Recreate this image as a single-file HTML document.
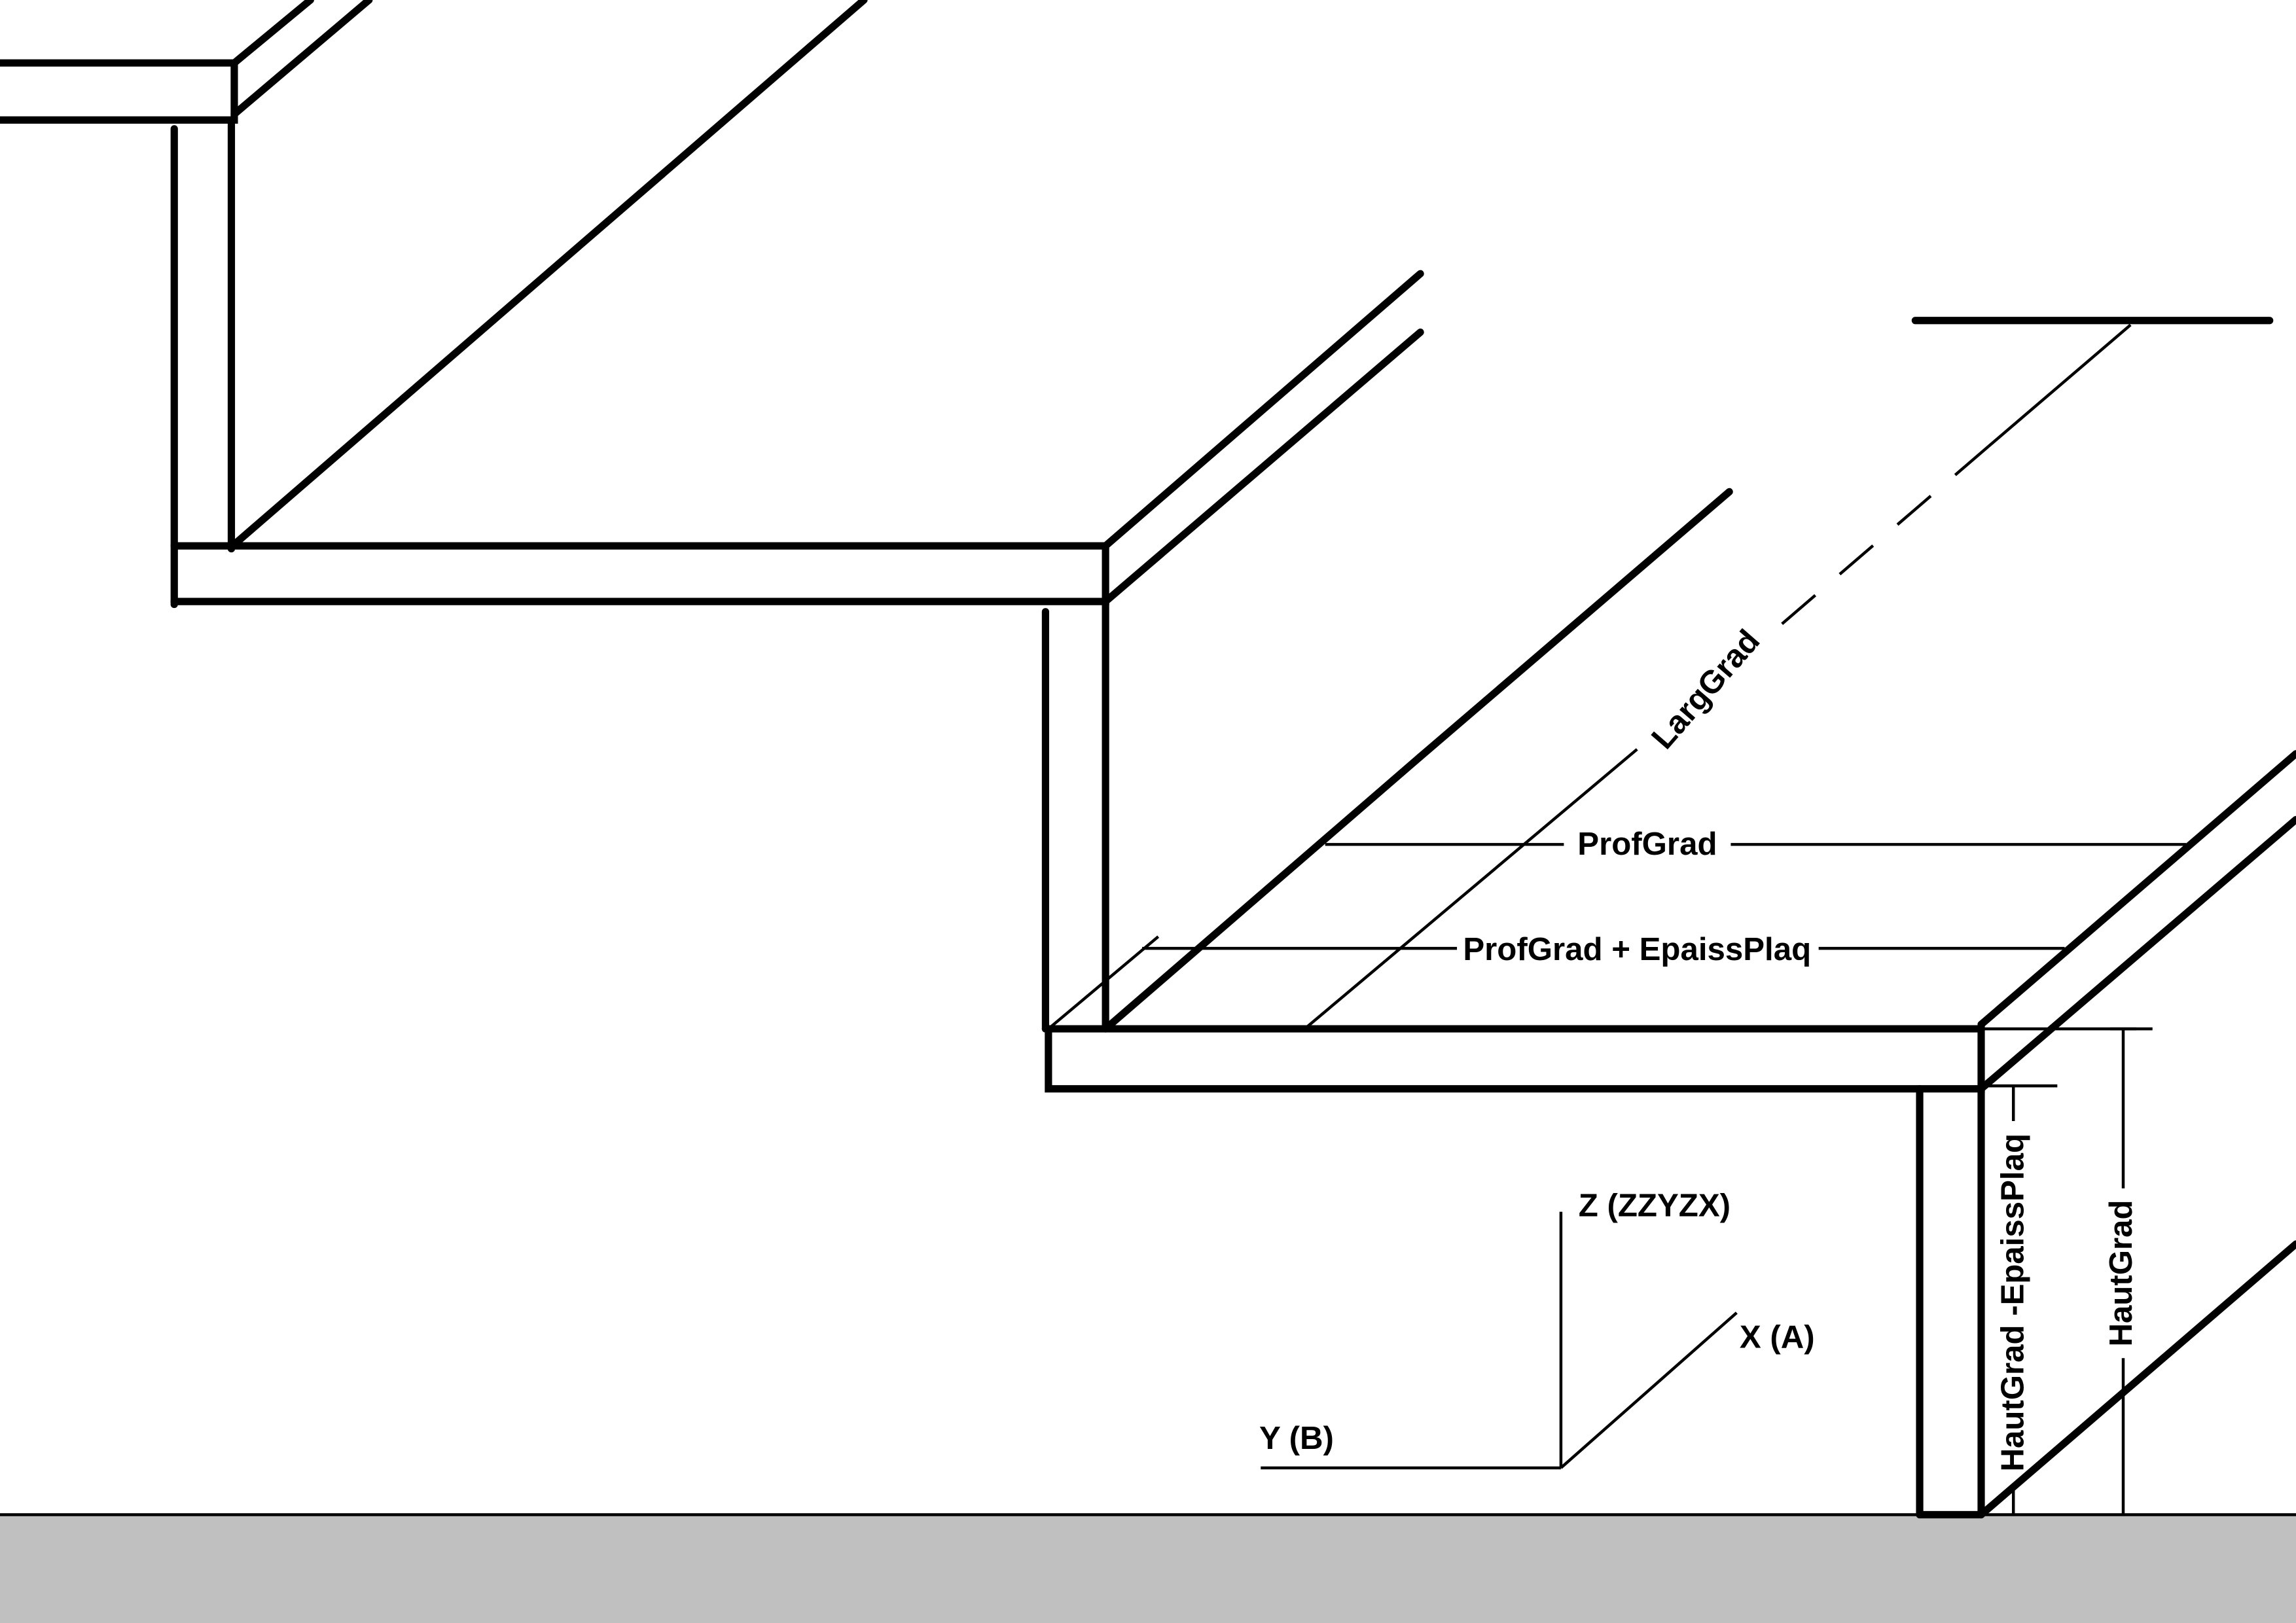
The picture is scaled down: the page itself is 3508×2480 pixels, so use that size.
<!DOCTYPE html>
<html><head><style>html,body{margin:0;padding:0;background:#fff}svg{display:block}</style></head><body>
<svg width="3508" height="2480" viewBox="0 0 1568 1109" preserveAspectRatio="none" xmlns="http://www.w3.org/2000/svg">
<rect x="0" y="1035" width="1568" height="74" fill="#c0c0c0"/>
<line x1="0" y1="1035" x2="1568" y2="1035" stroke="#000" stroke-width="2"/>
<g stroke="#000" stroke-width="5" stroke-linecap="round" fill="none">
<polyline points="0,43 160,43 160,82 0,82"/>
<line x1="160" y1="43" x2="212" y2="0"/>
<line x1="160" y1="78" x2="252" y2="0"/>
<line x1="160" y1="372" x2="376" y2="185"/>
<line x1="376" y1="185" x2="590" y2="0"/>
<line x1="119" y1="88" x2="119" y2="413"/>
<line x1="158" y1="82" x2="158" y2="375"/>
<polyline points="119,373 755,373 755,411 119,411"/>
<line x1="755" y1="373" x2="970" y2="187"/>
<line x1="755" y1="411" x2="970" y2="227"/>
<line x1="714" y1="418" x2="714" y2="703"/>
<line x1="755" y1="411" x2="755" y2="703"/>
<line x1="755" y1="703" x2="970" y2="517"/>
<line x1="970" y1="517" x2="1181" y2="336"/>
<polyline points="714,703 1353,703 1353,744 716,744 716,703"/>
<line x1="1353" y1="700" x2="1568" y2="515"/>
<line x1="1353" y1="744" x2="1568" y2="560"/>
<line x1="1311" y1="744" x2="1311" y2="1035"/>
<line x1="1353" y1="744" x2="1353" y2="1035"/>
<line x1="1311" y1="1035" x2="1353" y2="1035"/>
<line x1="1353" y1="1035" x2="1568" y2="850"/>
<line x1="1308" y1="219" x2="1550" y2="219"/>
</g>
<g stroke="#000" stroke-width="2" fill="none">
<line x1="1455" y1="222" x2="1358" y2="305"/>
<line x1="1358" y1="305" x2="1208" y2="434" stroke-dasharray="30,22"/>
<line x1="1118" y1="512" x2="891" y2="703"/>
<line x1="716" y1="703" x2="791" y2="640"/>
<line x1="905" y1="577" x2="1068" y2="577"/>
<line x1="1182" y1="577" x2="1493" y2="577"/>
<line x1="780" y1="648" x2="995" y2="648"/>
<line x1="1242" y1="648" x2="1410" y2="648"/>
<line x1="1353" y1="703" x2="1470" y2="703"/>
<line x1="1353" y1="742" x2="1405" y2="742"/>
<line x1="1450" y1="703" x2="1450" y2="812"/>
<line x1="1450" y1="928" x2="1450" y2="1035"/>
<line x1="1375" y1="742" x2="1375" y2="766"/>
<line x1="1375" y1="1014" x2="1375" y2="1035"/>
<line x1="1366" y1="742" x2="1384" y2="742"/>
<line x1="1441" y1="703" x2="1459" y2="703"/>
<line x1="1066" y1="828" x2="1066" y2="1003"/>
<line x1="861" y1="1003" x2="1066" y2="1003"/>
<line x1="1066" y1="1003" x2="1186" y2="897"/>
</g>
<g font-family="Liberation Sans, sans-serif" font-weight="bold" font-size="22" fill="#000">
<text x="1125" y="584" text-anchor="middle">ProfGrad</text>
<text x="1118" y="656" text-anchor="middle">ProfGrad + EpaissPlaq</text>
<text transform="translate(1166,472) rotate(-49)" text-anchor="middle" dominant-baseline="middle">LargGrad</text>
<text transform="translate(1450,870) rotate(-90)" text-anchor="middle" dominant-baseline="middle">HautGrad</text>
<text transform="translate(1376,890) rotate(-90)" text-anchor="middle" dominant-baseline="middle">HautGrad -EpaissPlaq</text>
<text x="1078" y="831">Z (ZZYZX)</text>
<text x="1188" y="921">X (A)</text>
<text x="860" y="990">Y (B)</text>
</g>
</svg>
</body></html>
